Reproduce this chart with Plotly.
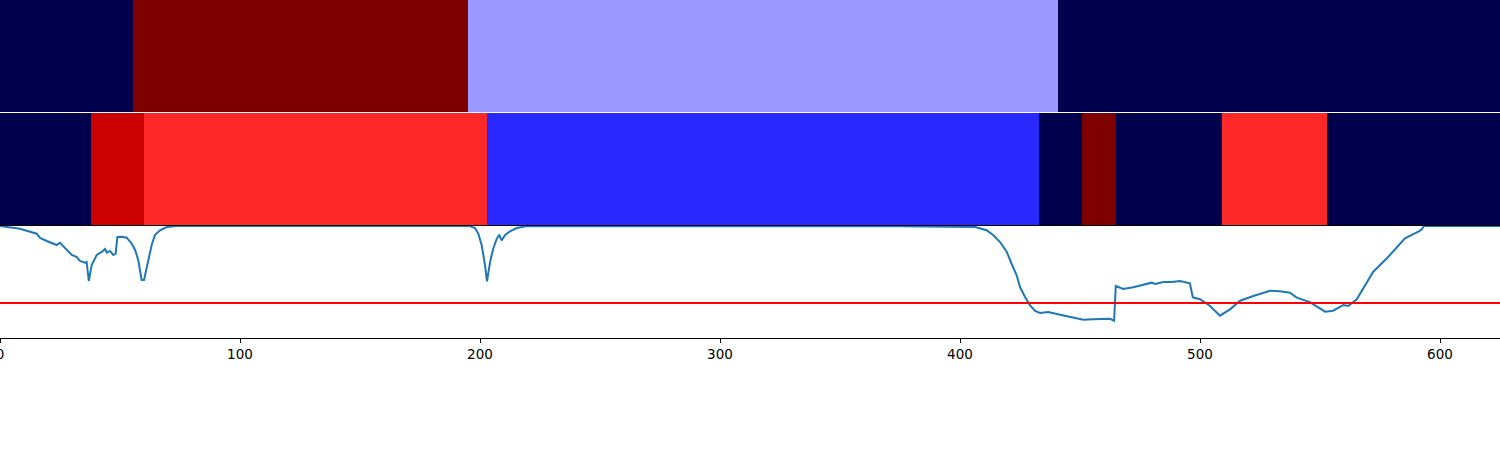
import plotly.graph_objects as go

# ---- data ----
X_MAX = 625
XTICKS = [0, 100, 200, 300, 400, 500, 600]

# top band segments
top_starts = [0, 55.5, 195, 441]
top_ends = [55.5, 195, 441, 625]
top_colors = ["#00004c", "#7f0000", "#9999ff", "#00004c"]

# middle band segments
mid_starts = [0, 38, 60, 203, 433, 451, 465, 509, 553]
mid_ends = [38, 60, 203, 433, 451, 465, 509, 553, 625]
mid_colors = ["#00004c", "#cc0000", "#ff2828", "#2828ff", "#00004c",
              "#7f0000", "#00004c", "#ff2828", "#00004c"]

# line series
line_x = [0, 8.3, 15.3, 16.7, 19.5, 22.1, 23.6, 25, 26.3, 27.8, 29.9, 32, 33.3,
          35.4, 36.1, 37, 38.2, 40.3, 42.4, 43.8, 44.5, 45.8, 47.2, 48.2, 48.9,
          50.7, 52.8, 54.9, 56.3, 57.6, 59, 60, 61.8, 63.2, 64.6, 66.7, 69.5,
          73.6, 191.7, 195.8, 197.9, 199.3, 200.7, 202.1, 202.9, 204.2, 205.5,
          207, 208, 209, 210.4, 212.5, 215.3, 219.5, 375, 400, 406.3, 411.1,
          413.9, 416.7, 419.5, 421.5, 423.6, 425, 427.1, 429.2, 431.3, 433.3,
          436.8, 441.7, 447.2, 451.4, 455.5, 462.5, 464.2, 464.9, 468, 472.2,
          479.9, 481.3, 484.7, 488.2, 491.7, 495.8, 497, 500, 504.2, 508.3,
          512.5, 516.7, 522.2, 529.2, 533.3, 537.5, 540.3, 545.8, 552.1, 555.5,
          559.7, 561.8, 565.3, 572.2, 578.5, 585.4, 591, 592.4, 593.3, 625]
line_y = [1.0, 0.976, 0.931, 0.893, 0.866, 0.839, 0.830, 0.851, 0.821, 0.786,
          0.741, 0.723, 0.688, 0.672, 0.679, 0.509, 0.652, 0.741, 0.768, 0.795,
          0.762, 0.777, 0.741, 0.753, 0.902, 0.904, 0.896, 0.842, 0.786, 0.696,
          0.518, 0.518, 0.708, 0.830, 0.922, 0.962, 0.991, 1.0, 1.0, 1.0, 0.982,
          0.931, 0.828, 0.649, 0.506, 0.679, 0.797, 0.887, 0.922, 0.872, 0.917,
          0.953, 0.982, 1.0, 0.997, 0.996, 0.991, 0.962, 0.917, 0.857, 0.768,
          0.663, 0.560, 0.455, 0.366, 0.292, 0.241, 0.223, 0.232, 0.208, 0.179,
          0.163, 0.167, 0.172, 0.154, 0.464, 0.4375, 0.453, 0.494, 0.482, 0.5,
          0.5, 0.509, 0.488, 0.363, 0.346, 0.286, 0.199, 0.256, 0.333, 0.375,
          0.422, 0.417, 0.404, 0.360, 0.321, 0.235, 0.244, 0.295, 0.286, 0.346,
          0.592, 0.726, 0.890, 0.949, 0.971, 1.0, 1.0]
THRESHOLD = 0.3125

fig = go.Figure()

def band(starts, ends, colors, yaxis, xaxis):
    fig.add_trace(go.Bar(
        x=[e - s for s, e in zip(starts, ends)], base=starts,
        y=[0] * len(starts), orientation="h", width=1,
        marker=dict(color=colors, line=dict(width=0)),
        xaxis=xaxis, yaxis=yaxis, showlegend=False, hoverinfo="skip"))

band(top_starts, top_ends, top_colors, "y3", "x3")
band(mid_starts, mid_ends, mid_colors, "y2", "x2")

fig.add_trace(go.Scatter(x=line_x, y=line_y, mode="lines",
                         line=dict(color="#1f77b4", width=2),
                         xaxis="x", yaxis="y", showlegend=False))

H = 338.0
base = dict(showgrid=False, zeroline=False, linecolor="black", linewidth=1)
fig.update_layout(
    width=1500, height=450,
    margin=dict(l=0, r=0, t=0, b=450 - 338, autoexpand=False),
    paper_bgcolor="white", plot_bgcolor="white",
    barmode="overlay", bargap=0,
    font=dict(family="DejaVu Sans", size=13.5, color="black"),
    xaxis=dict(range=[0, X_MAX], tickvals=XTICKS, ticks="outside", ticklen=4,
               tickcolor="black", anchor="y", showline=True, mirror=True,
               ticklabeloverflow="allow", automargin=False, **base),
    yaxis=dict(domain=[0, (H - 226) / H], range=[0, 1.0], showticklabels=False,
               ticks="", showline=True, mirror=True, **base),
    xaxis2=dict(range=[0, X_MAX], anchor="y2", matches="x", side="bottom",
                showticklabels=False, ticks="", showline=True, mirror=False, **base),
    yaxis2=dict(domain=[(H - 225) / H, (H - 113) / H], range=[-0.5, 0.5],
                showticklabels=False, ticks="", showline=True, mirror=True, **base),
    xaxis3=dict(range=[0, X_MAX], anchor="y3", matches="x", side="top",
                showticklabels=False, ticks="", showline=True, mirror=False, **base),
    yaxis3=dict(domain=[(H - 112) / H, 1], range=[-0.5, 0.5],
                showticklabels=False, ticks="", showline=True, mirror=True, **base),
)
fig.add_hline(y=THRESHOLD, line=dict(color="red", width=2), xref="x", yref="y")

fig.write_html("out.html", config={"displayModeBar": False},
               post_script="document.body.style.margin='0';document.body.style.overflow='hidden';")
